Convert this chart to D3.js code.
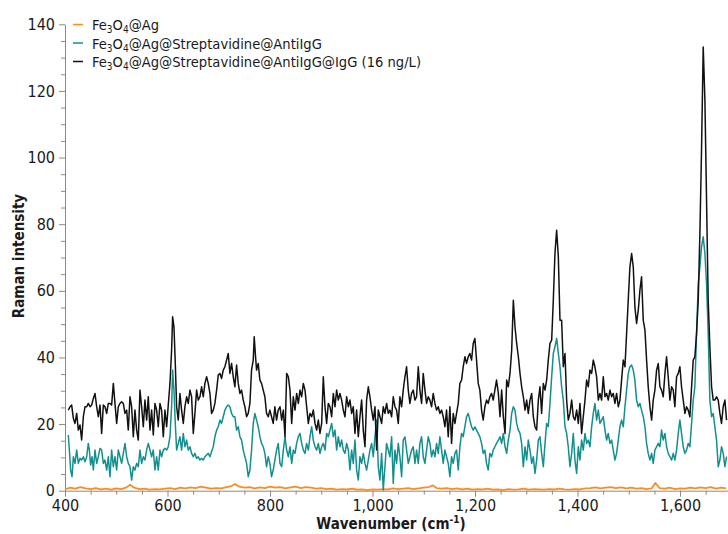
<!DOCTYPE html>
<html>
<head>
<meta charset="utf-8">
<script src="https://cdn.jsdelivr.net/npm/d3@7"></script>
<style>
  body { margin: 0; background: #fff; }
  svg { display: block; font-family: "DejaVu Sans Condensed", "DejaVu Sans", sans-serif; }
</style>
</head>
<body>
<div id="chart"></div>
<script>
// axis ticks
const xTicks = [400, 600, 800, 1000, 1200, 1400, 1600];
const xMinorTicks = [450, 500, 550, 650, 700, 750, 850, 900, 950, 1050, 1100, 1150, 1250, 1300, 1350, 1450, 1500, 1550, 1650, 1700];
const yTicks = [0, 20, 40, 60, 80, 100, 120, 140];
const yMinorTicks = [5, 10, 15, 25, 30, 35, 45, 50, 55, 65, 70, 75, 85, 90, 95, 105, 110, 115, 125, 130, 135];

const seriesNames = ['Fe3O4@Ag', 'Fe3O4@Ag@Streptavidine@AntiIgG', 'Fe3O4@Ag@Streptavidine@AntiIgG@IgG (16 ng/L)'];

// [wavenumber, intensity]
const agSpectrum = [
  [400,0.4],[410,0.9],[420,0.6],[430,1.1],[440,0.7],[450,0.5],[460,0.8],[470,0.4],[480,0.6],[490,0.3],
  [500,0.7],[510,0.5],[520,1.0],[527,1.8],[535,0.9],[545,0.5],[555,0.6],[565,0.3],[575,0.5],[585,0.4],
  [595,0.6],[605,0.8],[615,0.5],[625,0.9],[635,0.7],[645,1.0],[655,0.8],[665,1.2],[675,0.9],[685,0.6],
  [695,0.8],[705,0.7],[715,1.1],[725,1.4],[732,2.0],[740,1.2],[750,0.9],[760,1.1],[770,0.7],[780,1.0],
  [790,0.8],[800,1.2],[810,0.9],[820,1.1],[830,0.7],[840,1.0],[850,1.2],[860,0.8],[870,1.1],[880,0.9],
  [890,0.6],[900,0.8],[910,0.5],[920,0.6],[930,0.3],[940,0.5],[950,0.4],[960,0.6],[970,0.3],[980,0.4],
  [990,0.2],[1000,0.4],[1010,0.3],[1020,0.5],[1030,0.4],[1040,0.7],[1050,0.5],[1060,0.6],[1070,0.8],[1080,0.5],
  [1090,0.7],[1100,0.9],[1110,1.1],[1118,1.6],[1125,0.8],[1135,0.6],[1145,0.8],[1155,0.5],[1165,0.7],[1175,0.4],
  [1185,0.6],[1195,0.3],[1205,0.5],[1215,0.4],[1225,0.6],[1235,0.3],[1245,0.4],[1255,0.2],[1265,0.5],[1275,0.3],
  [1285,0.4],[1295,0.6],[1305,0.3],[1315,0.5],[1325,0.4],[1335,0.3],[1345,0.5],[1355,0.4],[1365,0.6],[1375,0.4],
  [1385,0.3],[1395,0.5],[1405,0.4],[1415,0.7],[1425,0.8],[1435,1.0],[1445,0.7],[1455,0.9],[1465,1.1],[1475,0.8],
  [1485,1.0],[1495,0.7],[1505,0.9],[1515,0.6],[1525,0.8],[1535,0.5],[1545,0.7],[1552,2.3],[1560,0.8],[1570,0.6],
  [1580,0.9],[1590,0.5],[1600,0.7],[1610,0.6],[1620,0.9],[1630,0.7],[1640,1.0],[1650,0.8],[1660,1.1],[1670,0.6],
  [1680,0.9],[1690,0.7]
];

const antiIgGSpectrum = [
  [406.5,16.7],[408.5,12.2],[411,6.2],[413.7,4.2],[416.3,10.2],[419.5,8.2],[422.8,12.2],[426,8.2],[429.3,9.7],[432.5,9.2],
  [435.8,10.2],[439,8.7],[442.3,10.2],[445.5,14.2],[447.5,12.2],[450,7.7],[452.7,10.2],[455.3,6.2],[458.5,12.2],[461.8,8.2],
  [465,10.2],[468.3,12.7],[471.5,12.2],[474.8,8.2],[478,9.2],[481.3,6.2],[484.5,10.2],[487.8,4.2],[491,12.2],[494.3,7.2],
  [497.5,10.2],[500.8,6.2],[504,12.2],[507.3,10.2],[510.5,8.2],[513.8,11.2],[517,14.2],[520.3,10.2],[523.5,8.2],[526.8,7.2],
  [530,3.2],[533.3,7.2],[536.5,6.2],[539.8,8.2],[543,7.2],[546.3,12.2],[549.5,8.2],[552.8,10.2],[556,9.2],[559.3,12.2],
  [562.5,14.2],[565.8,12.2],[569,10.2],[572.3,12.2],[575.5,6.2],[578.8,10.2],[582,6.2],[585.3,12.2],[588.5,10.2],[591.8,12.2],
  [595,12.7],[598.3,12.2],[601.5,13.2],[604.8,16.2],[608,25.2],[610,36.2],[612.6,30.2],[615.2,20.2],[617.8,12.2],[621,14.2],
  [624.3,16.2],[627.5,12.2],[630.8,17.2],[634,13.2],[637.3,15.2],[640.5,12.2],[643.8,13.2],[647,11.2],[650.3,10.2],[653.5,11.2],
  [656.8,9.7],[660,10.2],[663.3,9.2],[666.5,9.7],[669.8,9.2],[673,10.2],[676.3,10.7],[679.5,11.2],[682.8,10.2],[686,11.7],
  [689.3,13.2],[692.5,16.2],[695.8,18.2],[699,19.2],[702.3,21.2],[705.5,20.2],[708.8,22.2],[712,24.2],[715.3,25.2],[718.5,25.7],
  [721.8,25.2],[725,23.2],[728.3,22.2],[731.5,22.2],[734.8,18.2],[738,19.2],[741.3,16.2],[744.5,15.2],[747.8,12.2],[751,10.2],
  [754.3,8.2],[757.5,4.2],[760.8,6.2],[764,12.2],[767.3,20.2],[770.5,23.2],[773.8,21.2],[777,19.2],[780.3,16.2],[783.5,14.2],
  [786.8,13.2],[790,11.2],[793.3,7.2],[796.5,10.2],[799.8,8.2],[803,4.2],[806.3,6.2],[809.5,9.2],[812.8,12.2],[816,14.2],
  [819.5,8.2],[822.8,7.2],[826,12.2],[829.3,16.2],[832.5,12.2],[835.8,10.2],[839,13.2],[842.3,8.2],[845.5,12.2],[848.8,11.2],
  [852,14.2],[855.3,16.2],[858.5,17.2],[861.8,14.2],[865,12.2],[868.3,11.2],[871.5,14.2],[874.8,12.2],[878,16.2],[881.3,19.2],
  [884.5,15.2],[887.8,13.2],[891,12.2],[894.3,14.2],[897.5,11.2],[900.8,13.2],[904,14.2],[907.3,12.2],[910.5,17.2],[913.8,16.2],
  [917,18.2],[920.3,20.2],[923.5,16.2],[926.8,18.2],[930,12.2],[933.3,16.2],[936.5,13.2],[939.8,15.2],[943,12.2],[946.3,11.2],
  [949.5,14.2],[952.8,12.2],[956,6.2],[959.3,12.2],[962.5,8.2],[965.8,15.2],[969,6.2],[972.3,3.2],[975.5,10.2],[978.8,8.2],
  [982,11.2],[985.3,8.2],[988.5,6.2],[991.8,9.2],[995,12.2],[998.3,14.2],[1001.5,10.2],[1004.8,16.2],[1008,21.2],[1011.3,7.2],
  [1014.5,3.2],[1017.8,11.2],[1021,0.2],[1024.3,7.2],[1027.5,14.2],[1030.8,12.2],[1034,10.2],[1037.3,16.2],[1040.5,2.2],[1043.8,12.2],
  [1047,8.2],[1050.3,14.2],[1053.5,10.2],[1056.8,4.2],[1060,15.2],[1063.3,16.2],[1066.5,12.2],[1069.8,8.2],[1073,10.2],[1076.3,12.2],
  [1079.5,13.2],[1082.8,8.2],[1086,12.2],[1089.3,8.2],[1092.5,14.2],[1095.8,16.2],[1099,10.2],[1102.3,8.2],[1105.5,12.2],[1108.8,16.2],
  [1112,14.2],[1115.3,10.2],[1118.5,12.2],[1121.8,10.2],[1125,14.2],[1128.3,11.2],[1131.5,16.2],[1134.8,12.2],[1138,8.2],[1141.3,12.2],
  [1144.5,10.2],[1147.8,8.2],[1151,4.2],[1154.3,10.2],[1157.5,8.2],[1160.8,11.2],[1164,12.2],[1167.3,6.2],[1170.5,13.2],[1173.8,17.2],
  [1177,16.2],[1180.3,19.2],[1183.5,22.2],[1186.8,23.2],[1190,21.2],[1193.3,19.2],[1196.5,18.2],[1199.8,19.2],[1203,18.2],[1206.3,17.2],
  [1209.5,16.2],[1212.8,14.2],[1216,11.2],[1219.3,12.2],[1222.5,8.2],[1225.8,6.2],[1229,11.2],[1232.3,10.2],[1235.5,12.2],[1238.8,13.2],
  [1242,14.2],[1245.6,15.2],[1248.8,16.2],[1252,14.2],[1255.3,17.2],[1258.6,13.2],[1261.8,11.2],[1265,15.2],[1268.3,18.2],[1271.6,23.2],
  [1274.8,25.2],[1278,24.2],[1281.3,20.2],[1284.6,18.2],[1287.8,17.2],[1291,14.2],[1294.3,7.2],[1297.6,13.2],[1300.8,9.2],[1304,15.2],
  [1307.3,12.2],[1310.6,8.2],[1313.8,10.2],[1317,5.2],[1320.3,9.2],[1323.6,15.2],[1326.8,16.2],[1330,11.2],[1333.3,7.2],[1336.6,14.2],
  [1339.8,20.2],[1343,19.2],[1346.3,26.2],[1349.6,34.2],[1352.8,41.2],[1356,43.2],[1359.3,45.7],[1362.6,41.2],[1365.8,37.2],[1369,31.2],
  [1372.3,27.2],[1375.6,19.2],[1378.8,17.2],[1382,13.2],[1385.3,7.2],[1388.6,11.2],[1391.8,17.2],[1395,9.2],[1398.3,5.2],[1401.6,13.2],
  [1404.8,9.2],[1408,15.2],[1411.3,12.2],[1414.6,17.2],[1417.8,14.2],[1421,15.2],[1424.3,13.2],[1427.6,19.2],[1430.8,23.2],[1434,26.2],
  [1437.3,21.2],[1440.6,24.2],[1443.8,20.2],[1447,21.2],[1450.3,22.2],[1453.6,18.2],[1456.8,15.2],[1460,17.2],[1463.3,14.2],[1466.6,15.2],
  [1469.8,12.2],[1473,9.2],[1476.3,11.2],[1479.6,15.2],[1482.8,19.2],[1486,21.2],[1489.3,19.2],[1492.6,25.2],[1495.8,30.2],[1499,35.2],
  [1502.3,37.2],[1505.6,37.7],[1508.8,36.2],[1512,33.2],[1515.3,27.2],[1518.6,25.2],[1521.8,26.2],[1525,24.2],[1528.3,22.2],[1531.6,19.2],
  [1534.8,14.2],[1538,11.2],[1541.3,9.2],[1544.6,11.2],[1547.8,8.2],[1551,12.2],[1554.3,13.2],[1557.6,14.2],[1560.8,13.2],[1564,18.2],
  [1567.3,15.2],[1570.6,17.2],[1573.8,13.2],[1577,11.2],[1580.3,10.2],[1583.6,9.2],[1586.8,11.2],[1590,9.2],[1593.3,12.2],[1596.6,17.2],
  [1599.8,21.2],[1603,17.2],[1606.3,13.2],[1609.6,11.2],[1612.8,12.2],[1616,14.2],[1619.3,13.2],[1622.6,20.2],[1625.8,27.2],[1629,31.2],
  [1632.3,47.2],[1635.6,62.2],[1638.8,67.2],[1642,73.2],[1645.3,76.2],[1648.6,71.2],[1651.8,62.2],[1655,47.2],[1658.3,27.2],[1661.6,22.2],
  [1664.8,23.2],[1668,19.2],[1671.3,15.2],[1674.6,7.2],[1677.8,9.2],[1681,13.2],[1684.3,11.2],[1687.6,7.2],[1690.8,10.2]
];

const igGSpectrum = [
  [406.5,24.2],[409.8,25.2],[413,25.7],[416.3,21.7],[419.5,20.2],[422.8,23.2],[426,18.2],[429.3,19.7],[432.5,15.2],[435.8,22.2],
  [439,25.2],[442.3,25.2],[445.5,26.2],[448.8,25.2],[452,25.7],[455.3,27.7],[458.5,29.2],[461.8,25.2],[465,22.2],[468.3,25.7],
  [471.5,17.2],[474.8,25.7],[478,25.2],[481.3,23.2],[484.5,26.2],[487.8,26.2],[491,25.7],[494.3,32.2],[497.5,26.2],[500.8,20.2],
  [504,25.2],[507.3,26.2],[510.5,26.7],[513.8,26.2],[517,23.2],[520.3,24.2],[523.5,18.2],[526.8,28.2],[530,25.2],[533.3,16.2],
  [536.5,24.2],[539.8,18.2],[543,15.2],[546.3,30.2],[549.5,25.2],[552.8,19.2],[556,27.2],[559.3,21.2],[562.5,28.2],[565.8,18.2],
  [569,24.2],[572.3,16.7],[575.5,26.2],[578.8,24.2],[582,19.2],[585.3,26.2],[588.5,24.2],[591.8,16.2],[595,24.2],[598.3,19.2],
  [601.5,25.7],[604.8,32.2],[608,42.2],[610,52.2],[612.6,49.2],[615.2,38.2],[617.8,25.2],[621,21.2],[624.3,29.2],[627.5,24.2],
  [630.8,20.2],[634,25.2],[637.3,28.2],[640.5,26.2],[643.8,30.2],[647,28.2],[650.3,17.2],[653.5,23.2],[656.8,30.2],[660,27.2],
  [663.3,28.2],[666.5,31.2],[669.8,28.2],[673,32.2],[676.3,34.2],[679.5,32.2],[682.8,29.2],[686,23.2],[689.3,24.2],[692.5,26.2],
  [695.8,30.2],[699,34.7],[702.3,35.2],[705.5,33.7],[708.8,36.2],[712,37.2],[715.3,39.2],[718.5,41.2],[721.8,35.2],[725,38.2],
  [728.3,34.2],[731.5,31.2],[734.8,37.7],[738,32.2],[741.3,29.2],[744.5,30.2],[747.8,27.2],[751,25.2],[754.3,22.2],[757.5,23.2],
  [760.8,26.2],[764,36.2],[767.3,39.2],[769.2,46.2],[771.8,40.2],[773.8,36.2],[777,38.2],[780.3,33.2],[783.5,32.2],[786.8,30.2],
  [790,28.2],[793.3,23.2],[796.5,22.2],[799.8,24.2],[803,22.2],[806.3,20.2],[809.5,25.2],[812.8,21.2],[816,24.2],
  [819.5,25.2],[822.8,21.2],[826,24.2],[829.3,16.2],[832.5,35.2],[835.8,34.2],[839,30.2],[842.3,20.2],[845.5,28.2],[848.8,24.2],
  [852,29.2],[855.3,26.2],[858.5,30.2],[861.8,28.2],[865,32.2],[868.3,30.2],[871.5,25.2],[874.8,20.2],[878,23.2],[881.3,22.2],
  [884.5,24.2],[887.8,20.2],[891,18.2],[894.3,21.2],[897.5,17.2],[900.8,20.2],[904,34.2],[907.3,25.2],[910.5,20.2],[913.8,26.2],
  [917,25.2],[920.3,22.2],[923.5,29.2],[926.8,25.2],[930,30.2],[933.3,27.2],[936.5,29.2],[939.8,27.2],[943,24.2],[946.3,22.2],
  [949.5,28.2],[952.8,25.2],[956,27.2],[959.3,23.2],[962.5,25.2],[965.8,17.2],[969,24.2],[972.3,16.2],[975.5,22.2],[978.8,27.2],
  [982,18.2],[985.3,13.2],[988.5,27.2],[991.8,31.2],[995,28.2],[998.3,24.2],[1001.5,21.2],[1004.8,25.2],[1008,12.2],[1011.3,24.2],
  [1014.5,22.2],[1017.8,20.2],[1021,25.2],[1024.3,23.2],[1027.5,26.2],[1030.8,23.2],[1034,24.2],[1037.3,22.2],[1040.5,28.2],[1043.8,25.2],
  [1047,24.2],[1050.3,20.2],[1053.5,28.2],[1056.8,25.2],[1060,30.2],[1063.3,34.2],[1066.5,37.2],[1069.8,30.2],[1073,26.2],[1076.3,29.2],
  [1079.5,30.2],[1082.8,27.2],[1086,28.2],[1089.3,37.2],[1092.5,30.2],[1095.8,26.2],[1099,35.2],[1102.3,30.2],[1105.5,26.2],[1108.8,28.2],
  [1112,27.2],[1115.3,25.2],[1118.5,29.2],[1121.8,26.2],[1125,24.2],[1128.3,25.2],[1131.5,23.2],[1134.8,24.2],[1138,22.2],[1141.3,19.2],
  [1144.5,24.2],[1147.8,16.2],[1151,25.2],[1154.3,14.2],[1157.5,23.2],[1160.8,20.2],[1164,23.2],[1167.3,26.2],[1170.5,32.2],[1173.8,33.2],
  [1177,37.2],[1180.3,40.2],[1183.5,38.2],[1186.8,40.2],[1190,41.2],[1193.3,39.2],[1196.5,44.2],[1199.8,45.7],[1203,39.2],[1206.3,32.2],
  [1209.5,30.2],[1212.8,24.2],[1216,21.2],[1219.3,25.2],[1222.5,27.2],[1225.8,26.2],[1229,28.2],[1232.3,29.2],[1235.5,27.2],[1238.8,30.2],
  [1242,33.2],[1245.6,29.2],[1248.8,22.2],[1252,30.2],[1255.3,22.2],[1258.6,17.2],[1261.8,33.2],[1265,31.2],[1268.3,35.2],[1271.6,42.2],
  [1274.8,57.2],[1278,49.2],[1281.3,44.2],[1284.6,40.2],[1287.8,35.2],[1291,31.2],[1294.3,28.2],[1297.6,24.2],[1300.8,27.2],[1304,23.2],
  [1307.3,27.2],[1310.6,29.2],[1313.8,22.2],[1317,19.2],[1320.3,18.2],[1323.6,27.2],[1326.8,31.2],[1330,23.2],[1333.3,32.2],[1336.6,30.2],
  [1339.8,33.2],[1343,39.2],[1346.3,44.2],[1349.6,45.2],[1352.8,57.2],[1356,71.2],[1359.3,78.2],[1362.6,70.2],[1365.8,51.2],[1369,51.2],
  [1372.3,37.2],[1375.6,41.2],[1378.8,27.2],[1382,21.2],[1385.3,23.2],[1388.6,27.2],[1391.8,22.2],[1395,21.2],[1398.3,24.2],[1401.6,20.2],
  [1404.8,26.2],[1408,17.2],[1411.3,22.2],[1414.6,27.2],[1417.8,33.2],[1421,31.2],[1424.3,36.2],[1427.6,35.2],[1430.8,39.2],[1434,37.2],
  [1437.3,34.2],[1440.6,27.2],[1443.8,29.2],[1447,27.2],[1450.3,34.2],[1453.6,28.2],[1456.8,29.2],[1460,27.2],[1463.3,30.2],[1466.6,28.2],
  [1469.8,29.2],[1473,26.2],[1476.3,29.2],[1479.6,25.2],[1482.8,27.2],[1486,33.2],[1489.3,39.2],[1492.6,37.2],[1495.8,47.2],[1499,57.2],
  [1502.3,67.2],[1505.6,71.2],[1508.8,67.2],[1512,55.2],[1515.3,50.2],[1518.6,54.2],[1521.8,60.2],[1525,64.2],[1528.3,51.2],[1531.6,48.2],
  [1534.8,39.2],[1538,31.2],[1541.3,25.2],[1544.6,21.2],[1547.8,27.2],[1551,30.2],[1554.3,36.2],[1557.6,38.2],[1560.8,31.2],[1564,30.2],
  [1567.3,28.2],[1570.6,35.2],[1573.8,40.2],[1577,34.2],[1580.3,27.2],[1583.6,31.2],[1586.8,30.2],[1590,25.2],[1593.3,34.2],[1596.6,35.2],
  [1599.8,37.2],[1603,31.2],[1606.3,27.2],[1609.6,23.2],[1612.8,25.2],[1616,24.2],[1619.3,22.2],[1622.6,31.2],[1625.8,39.2],[1629,40.2],
  [1632.3,47.2],[1635.6,57.2],[1638.8,77.2],[1642,102.2],[1645.3,133.2],[1648.6,117.2],[1651.8,87.2],[1655,57.2],[1658.3,43.2],[1661.6,31.2],
  [1664.8,27.2],[1668,27.2],[1671.3,28.2],[1674.6,27.2],[1677.8,23.2],[1681,20.2],[1684.3,25.2],[1687.6,27.2],[1690.8,21.2]
];

const seriesColors = ['#ff8c1a', '#148f8f', '#111111'];

const width = 728, height = 534;
const plotLeft = 65, plotRight = 728, plotTop = 24.3, plotBottom = 490.7;

const svg = d3.select('#chart').append('svg')
  .attr('width', width)
  .attr('height', height);

const x = d3.scaleLinear().domain([400, 1600]).range([plotLeft, 680]);
const y = d3.scaleLinear().domain([0, 140]).range([plotBottom, plotTop]);

svg.append('clipPath').attr('id', 'plot-clip')
  .append('rect')
  .attr('x', plotLeft).attr('y', 0)
  .attr('width', plotRight - plotLeft).attr('height', plotBottom + 1);

const axisColor = '#8a8a8a';
const textColor = '#1a1a1a';

// minor ticks first so the majors sit on top
svg.append('g')
  .attr('transform', `translate(0,${plotBottom})`)
  .call(d3.axisBottom(x).tickValues(xMinorTicks).tickSize(4).tickFormat(''))
  .call(g => g.select('.domain').remove())
  .selectAll('line').attr('stroke', axisColor);

svg.append('g')
  .attr('transform', `translate(${plotLeft},0)`)
  .call(d3.axisLeft(y).tickValues(yMinorTicks).tickSize(4).tickFormat(''))
  .call(g => g.select('.domain').remove())
  .selectAll('line').attr('stroke', axisColor);

// X axis
const xAxis = svg.append('g')
  .attr('transform', `translate(0,${plotBottom})`)
  .call(d3.axisBottom(x).tickValues(xTicks).tickSize(6).tickSizeOuter(0).tickPadding(3).tickFormat(d3.format(',')));
xAxis.select('.domain').attr('d', `M${plotLeft},0.5H${plotRight}`).attr('stroke', axisColor);
xAxis.selectAll('line').attr('stroke', axisColor);
xAxis.selectAll('text')
  .attr('fill', textColor)
  .style('font-size', '16px')
  .style('font-family', '"DejaVu Sans Condensed", "DejaVu Sans", sans-serif');

// Y axis
const yAxis = svg.append('g')
  .attr('transform', `translate(${plotLeft},0)`)
  .call(d3.axisLeft(y).tickValues(yTicks).tickSize(6).tickSizeOuter(0).tickPadding(4));
yAxis.select('.domain').attr('stroke', axisColor);
yAxis.selectAll('line').attr('stroke', axisColor);
yAxis.selectAll('text')
  .attr('fill', textColor)
  .style('font-size', '16px')
  .style('font-family', '"DejaVu Sans Condensed", "DejaVu Sans", sans-serif');

// axis titles
svg.append('text')
  .attr('x', 391).attr('y', 529)
  .attr('text-anchor', 'middle')
  .attr('fill', textColor)
  .style('font-size', '15px').style('font-weight', 'bold')
  .text('Wavenumber (cm')
  .call(t => t.append('tspan').attr('dy', -6).style('font-size', '10px').text('-1'))
  .call(t => t.append('tspan').attr('dy', 6).text(')'));

svg.append('text')
  .attr('transform', 'translate(24,256) rotate(-90)')
  .attr('text-anchor', 'middle')
  .attr('fill', textColor)
  .style('font-size', '15px').style('font-weight', 'bold')
  .text('Raman intensity');

// spectra
const line = d3.line()
  .x(d => x(d[0]))
  .y(d => y(d[1]));

const plot = svg.append('g').attr('clip-path', 'url(#plot-clip)');
const spectra = [agSpectrum, antiIgGSpectrum, igGSpectrum];
const widths = [1.8, 1.5, 1.5];

plot.selectAll('.spectrum')
  .data(spectra)
  .enter().append('path')
  .attr('class', 'spectrum')
  .attr('d', line)
  .attr('fill', 'none')
  .attr('stroke', (d, i) => seriesColors[i])
  .attr('stroke-width', (d, i) => widths[i])
  .attr('stroke-linejoin', 'round');

// legend
const legend = svg.append('g').attr('transform', 'translate(73,24.5)');
seriesNames.forEach((name, i) => {
  const row = legend.append('g').attr('transform', `translate(0,${i * 18.5})`);
  row.append('line')
    .attr('x1', 0).attr('x2', 10)
    .attr('stroke', seriesColors[i]).attr('stroke-width', 1.5);
  const t = row.append('text')
    .attr('x', 19).attr('y', 5.5)
    .attr('fill', textColor)
    .style('font-size', '14.6px');
  // split chemical formula so the 3 and 4 get subscripted
  const parts = name.split(/(\d)/);
  let sub = false;
  parts.forEach((p, k) => {
    if (p === '') return;
    const isSub = (p === '3' || p === '4') && k < 4;
    const ts = t.append('tspan').text(p);
    if (isSub) {
      ts.attr('dy', 3).style('font-size', '10px');
      sub = true;
    } else if (sub) {
      ts.attr('dy', -3);
      sub = false;
    }
  });
});
</script>
</body>
</html>
